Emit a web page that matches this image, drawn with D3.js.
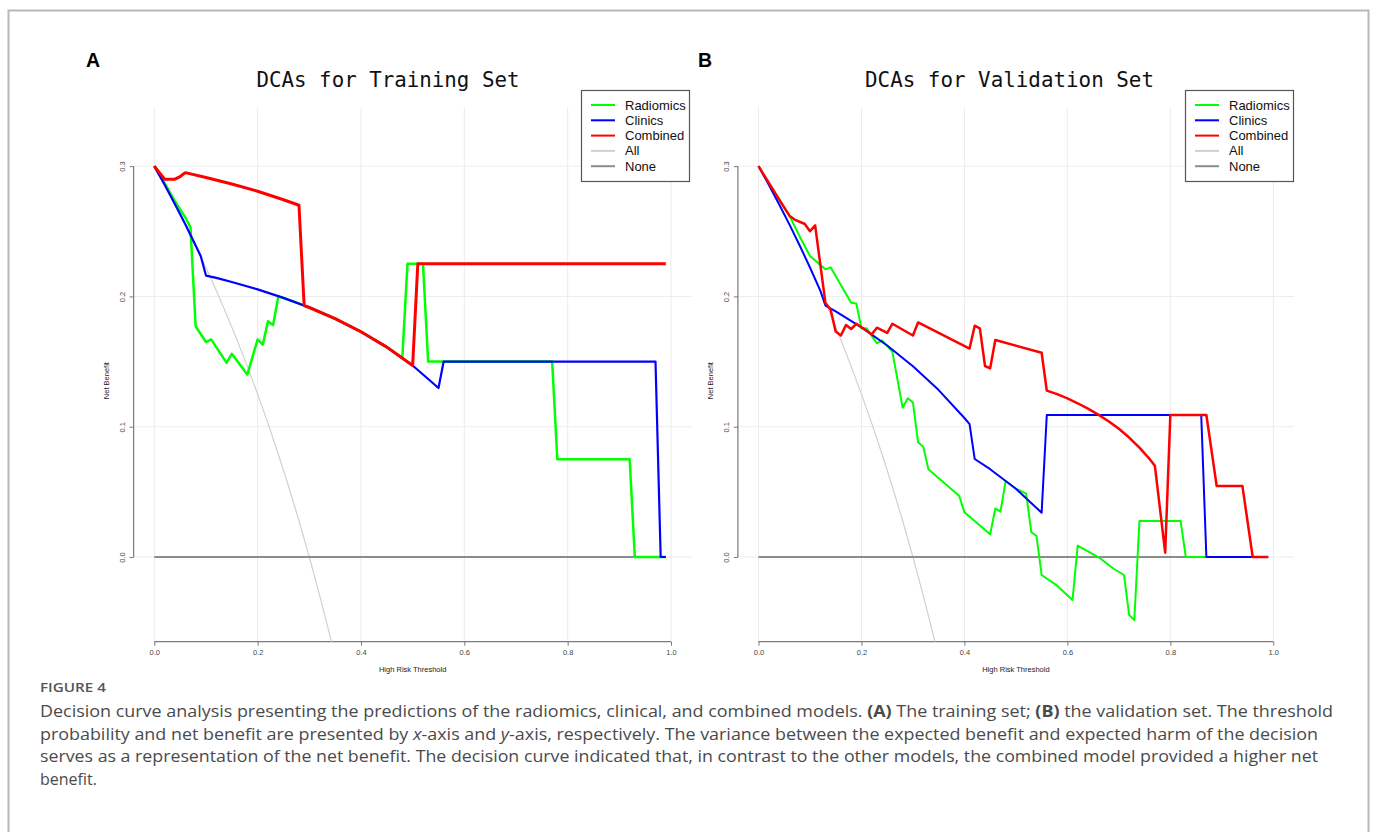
<!DOCTYPE html>
<html>
<head>
<meta charset="utf-8">
<script src="https://cdn.jsdelivr.net/npm/d3@7/dist/d3.min.js"></script>
<style>
  body { margin: 0; background: #fff; }
  svg { display: block; }
</style>
</head>
<body>
<div id="chart"></div>
<script>
/* Decision curves, training (A) and validation (B) sets */

// ---- data: [threshold, net benefit] ----
const treatAll = [[0,0.300],[0.02,0.2857],[0.04,0.2708],[0.06,0.2553],[0.08,0.2391],[0.10,0.2222],
  [0.12,0.2045],[0.14,0.1860],[0.16,0.1667],[0.18,0.1463],[0.20,0.125],[0.22,0.1026],[0.24,0.0789],
  [0.26,0.0541],[0.28,0.0278],[0.30,0.0],[0.32,-0.0294],[0.34,-0.0606],[0.36,-0.0938]];
const treatNone = [[0,0],[0.99,0]];

const trainRadiomics = [[0,0.300],[0.02,0.287],[0.04,0.273],[0.061,0.260],[0.07,0.253],[0.08,0.177],
  [0.10,0.165],[0.11,0.167],[0.14,0.149],[0.15,0.156],[0.18,0.140],[0.20,0.167],[0.21,0.163],
  [0.22,0.181],[0.23,0.178],[0.24,0.200],[0.27,0.196],[0.30,0.1915],[0.35,0.1829],[0.40,0.1729],
  [0.45,0.1611],[0.48,0.153],[0.49,0.225],[0.52,0.225],[0.53,0.150],[0.77,0.150],[0.78,0.075],
  [0.92,0.075],[0.93,0],[0.99,0]];
const trainClinics = [[0,0.300],[0.02,0.2857],[0.04,0.2708],[0.06,0.2553],[0.08,0.2391],[0.09,0.2308],
  [0.10,0.216],[0.12,0.2142],[0.15,0.2111],[0.20,0.2054],[0.25,0.1989],[0.30,0.1915],[0.35,0.1829],
  [0.40,0.1729],[0.45,0.1611],[0.50,0.147],[0.55,0.1297],[0.56,0.150],[0.97,0.150],[0.98,0],[0.99,0]];
const trainCombined = [[0,0.300],[0.02,0.290],[0.04,0.290],[0.05,0.292],[0.06,0.295],[0.10,0.2913],
  [0.15,0.2863],[0.20,0.2807],[0.25,0.2742],[0.28,0.270],[0.29,0.193],[0.30,0.1915],[0.35,0.1829],
  [0.40,0.1729],[0.45,0.1611],[0.50,0.147],[0.51,0.225],[0.99,0.225]];

const valRadiomics = [[0,0.300],[0.04,0.2745],[0.06,0.262],[0.08,0.246],[0.10,0.231],[0.13,0.2208],
  [0.14,0.2223],[0.18,0.1952],[0.19,0.1946],[0.20,0.1755],[0.21,0.1755],[0.23,0.164],[0.24,0.1663],
  [0.26,0.1576],[0.28,0.1146],[0.29,0.1218],[0.30,0.1187],[0.31,0.088],[0.32,0.0847],[0.33,0.0673],
  [0.39,0.0468],[0.40,0.0343],[0.45,0.0174],[0.46,0.0372],[0.47,0.0348],[0.48,0.0583],[0.50,0.0524],
  [0.52,0.0486],[0.53,0.019],[0.54,0.0161],[0.55,-0.0138],[0.58,-0.022],[0.61,-0.033],[0.62,0.0087],
  [0.66,0.0],[0.69,-0.009],[0.71,-0.0138],[0.72,-0.0445],[0.73,-0.0484],[0.74,0.0276],[0.82,0.0276],
  [0.83,0],[0.99,0]];
const valClinics = [[0,0.300],[0.02,0.2857],[0.04,0.2708],[0.06,0.2553],[0.08,0.2391],[0.10,0.2222],
  [0.12,0.2045],[0.13,0.193],[0.15,0.1885],[0.20,0.1762],[0.25,0.1623],[0.30,0.1464],[0.35,0.1281],
  [0.40,0.1067],[0.41,0.102],[0.42,0.0752],[0.45,0.0674],[0.50,0.0524],[0.55,0.034],[0.56,0.109],
  [0.86,0.109],[0.87,0],[0.99,0]];
const valCombined = [[0,0.300],[0.04,0.2745],[0.06,0.262],[0.07,0.259],[0.09,0.2556],[0.10,0.250],
  [0.11,0.2545],[0.13,0.195],[0.14,0.190],[0.15,0.173],[0.16,0.170],[0.17,0.178],[0.18,0.175],
  [0.19,0.179],[0.22,0.171],[0.23,0.176],[0.25,0.172],[0.26,0.179],[0.30,0.170],[0.31,0.180],
  [0.41,0.160],[0.42,0.1775],[0.43,0.1755],[0.44,0.1466],[0.45,0.1448],[0.46,0.1665],[0.55,0.1568],
  [0.56,0.1277],[0.58,0.125],[0.60,0.1217],[0.62,0.118],[0.64,0.1139],[0.66,0.1093],[0.68,0.1042],
  [0.70,0.0984],[0.72,0.0917],[0.74,0.084],[0.76,0.0751],[0.77,0.070],[0.79,0.0033],[0.80,0.109],
  [0.87,0.109],[0.89,0.0545],[0.94,0.0545],[0.96,0],[0.99,0]];

const xTicks = [0, 0.2, 0.4, 0.6, 0.8, 1.0];
const yTicks = [0, 0.1, 0.2, 0.3];
const legendNames = ["Radiomics", "Clinics", "Combined", "All", "None"];
const legendColors = ["#00ff00", "#0000ff", "#ff0000", "#d0d0d0", "#8c8c8c"];

const captionLines = [
  [["Decision curve analysis presenting the predictions of the radiomics, clinical, and combined models. ", 0], ["(A)", 1], [" The training set; ", 0], ["(B)", 1], [" the validation set. The threshold", 0]],
  [["probability and net benefit are presented by ", 0], ["x", 2], ["-axis and ", 0], ["y", 2], ["-axis, respectively. The variance between the expected benefit and expected harm of the decision", 0]],
  [["serves as a representation of the net benefit. The decision curve indicated that, in contrast to the other models, the combined model provided a higher net", 0]],
  [["benefit.", 0]]
];

// ---- layout ----
const width = 1377, height = 832;

const svg = d3.select("#chart")
  .append("svg")
  .attr("width", width)
  .attr("height", height);

// outer frame
svg.append("rect")
  .attr("x", 8.5).attr("y", 10.5)
  .attr("width", 1360).attr("height", 900)
  .attr("fill", "none")
  .attr("stroke", "#b8b8b8")
  .attr("stroke-width", 2);

const panels = [
  { letter: "A", title: "DCAs for Training Set", x0: 154.3, unit: 516.7, titleX: 388, titleW: 263,
    letterX: 86, legendX: 581, series: [trainRadiomics, trainClinics, trainCombined], widths: [2.5, 2.2, 3] },
  { letter: "B", title: "DCAs for Validation Set", x0: 758.5, unit: 514.8, titleX: 1009.5, titleW: 289,
    letterX: 698, legendX: 1185, series: [valRadiomics, valClinics, valCombined], widths: [2, 2, 2.5] }
];

const yTop = 107.5, yBottom = 641.7;

panels.forEach((p, pi) => {
  const g = svg.append("g");

  let x = d3.scaleLinear()
    .domain([-0.04, 1.04])
    .range([p.x0 - 0.04 * p.unit, p.x0 + 1.04 * p.unit]);

  let y = d3.scaleLinear()
    .domain([-0.065, 0.345])
    .range([yBottom, yTop]);

  const [xl, xr] = x.range();

  // clip to the plot region
  g.append("clipPath").attr("id", "clip" + pi)
    .append("rect")
    .attr("x", xl).attr("y", yTop)
    .attr("width", xr - xl).attr("height", yBottom - yTop);

  // grid
  g.append("g").selectAll("line").data(xTicks).join("line")
    .attr("x1", d => x(d)).attr("x2", d => x(d))
    .attr("y1", yTop).attr("y2", yBottom)
    .attr("stroke", "#ececec").attr("stroke-width", 1);
  g.append("g").selectAll("line").data(yTicks).join("line")
    .attr("x1", xl).attr("x2", xr)
    .attr("y1", d => y(d)).attr("y2", d => y(d))
    .attr("stroke", "#ececec").attr("stroke-width", 1);

  // x axis
  g.append("g")
    .attr("transform", `translate(0,${yBottom})`)
    .call(d3.axisBottom(x).tickValues(xTicks).tickFormat(d3.format(".1f")).tickSize(4).tickPadding(4))
    .call(a => a.select(".domain").remove())
    .call(a => a.selectAll("line").attr("stroke", "#7a7a7a"))
    .call(a => a.selectAll("text").attr("fill", "#444").attr("font-size", 7.5)
      .attr("font-family", "Liberation Sans, Arial, sans-serif"));
  g.append("line")
    .attr("x1", x(0)).attr("x2", x(1))
    .attr("y1", yBottom).attr("y2", yBottom)
    .attr("stroke", "#7a7a7a").attr("stroke-width", 1.2);

  // y axis
  g.append("g")
    .attr("transform", `translate(${xl},0)`)
    .call(d3.axisLeft(y).tickValues(yTicks).tickFormat(d3.format(".1f")).tickSize(4))
    .call(a => a.select(".domain").remove())
    .call(a => a.selectAll("line").attr("stroke", "#7a7a7a"))
    .call(a => a.selectAll("text")
      .attr("x", null).attr("dy", null)
      .attr("text-anchor", "middle")
      .attr("transform", "translate(-9,0) rotate(-90)")
      .attr("fill", "#444").attr("font-size", 7.5)
      .attr("font-family", "Liberation Sans, Arial, sans-serif"));
  g.append("line")
    .attr("x1", xl).attr("x2", xl)
    .attr("y1", y(0)).attr("y2", y(0.3))
    .attr("stroke", "#7a7a7a").attr("stroke-width", 1.2);

  // axis titles
  g.append("text")
    .attr("x", (xl + xr) / 2).attr("y", 672)
    .attr("text-anchor", "middle")
    .attr("font-family", "Liberation Sans, Arial, sans-serif")
    .attr("font-size", 7.5).attr("fill", "#222")
    .text("High Risk Threshold");
  g.append("text")
    .attr("transform", `translate(${xl - 25},${(yTop + yBottom) / 2 + 6}) rotate(-90)`)
    .attr("text-anchor", "middle")
    .attr("font-family", "Liberation Sans, Arial, sans-serif")
    .attr("font-size", 7.5).attr("fill", "#222")
    .text("Net Benefit");

  // curves
  const line = d3.line().x(d => x(d[0])).y(d => y(d[1]));
  const curves = g.append("g").attr("clip-path", `url(#clip${pi})`).attr("fill", "none")
    .attr("stroke-linejoin", "round");

  curves.append("path").datum(treatAll).attr("d", line)
    .attr("stroke", legendColors[3]).attr("stroke-width", 1.2);
  curves.append("path").datum(treatNone).attr("d", line)
    .attr("stroke", legendColors[4]).attr("stroke-width", 1.8);
  p.series.forEach((s, i) => {
    curves.append("path").datum(s).attr("d", line)
      .attr("stroke", legendColors[i]).attr("stroke-width", p.widths[i]);
  });

  // title and panel letter
  g.append("text")
    .attr("x", p.titleX).attr("y", 87)
    .attr("text-anchor", "middle")
    .attr("font-family", "DejaVu Sans Mono, monospace")
    .attr("font-size", 21).attr("fill", "#111")
    .attr("textLength", p.titleW).attr("lengthAdjust", "spacingAndGlyphs")
    .text(p.title);
  g.append("text")
    .attr("x", p.letterX).attr("y", 67)
    .attr("font-family", "Liberation Sans, Arial, sans-serif")
    .attr("font-weight", "bold").attr("font-size", 19.5).attr("fill", "#000")
    .text(p.letter);

  // legend
  const lg = g.append("g").attr("transform", `translate(${p.legendX},90)`);
  lg.append("rect")
    .attr("x", 0.5).attr("y", 0.5)
    .attr("width", 108).attr("height", 91)
    .attr("fill", "#fff").attr("stroke", "#555").attr("stroke-width", 1.2);
  const item = lg.selectAll(".item").data(legendNames).join("g")
    .attr("class", "item")
    .attr("transform", (d, i) => `translate(0,${15 + i * 15.3})`);
  item.append("line")
    .attr("x1", 10).attr("x2", 34)
    .attr("stroke", (d, i) => legendColors[i]).attr("stroke-width", 2);
  item.append("text")
    .attr("x", 44).attr("dy", "0.35em")
    .attr("font-family", "Liberation Sans, Arial, sans-serif")
    .attr("font-size", 13).attr("fill", "#111")
    .text(d => d);
});

// ---- caption ----
svg.append("text")
  .attr("x", 40).attr("y", 692)
  .attr("font-family", "Open Sans, Noto Sans, sans-serif")
  .attr("font-size", 12).attr("font-weight", 600)
  .attr("fill", "#555")
  .attr("textLength", 66).attr("lengthAdjust", "spacingAndGlyphs")
  .text("FIGURE 4");

const lineWidths = [1293, 1278, 1278, null];
captionLines.forEach((parts, i) => {
  const t = svg.append("text")
    .attr("x", 40).attr("y", 717 + i * 22.5)
    .attr("font-family", "Open Sans, Noto Sans, sans-serif")
    .attr("font-size", 16).attr("fill", "#4a4a4a");
  if (lineWidths[i]) t.attr("textLength", lineWidths[i]).attr("lengthAdjust", "spacingAndGlyphs");
  parts.forEach(([s, style]) => {
    t.append("tspan")
      .attr("font-weight", style === 1 ? "bold" : null)
      .attr("font-style", style === 2 ? "italic" : null)
      .text(s);
  });
});
</script>
</body>
</html>
